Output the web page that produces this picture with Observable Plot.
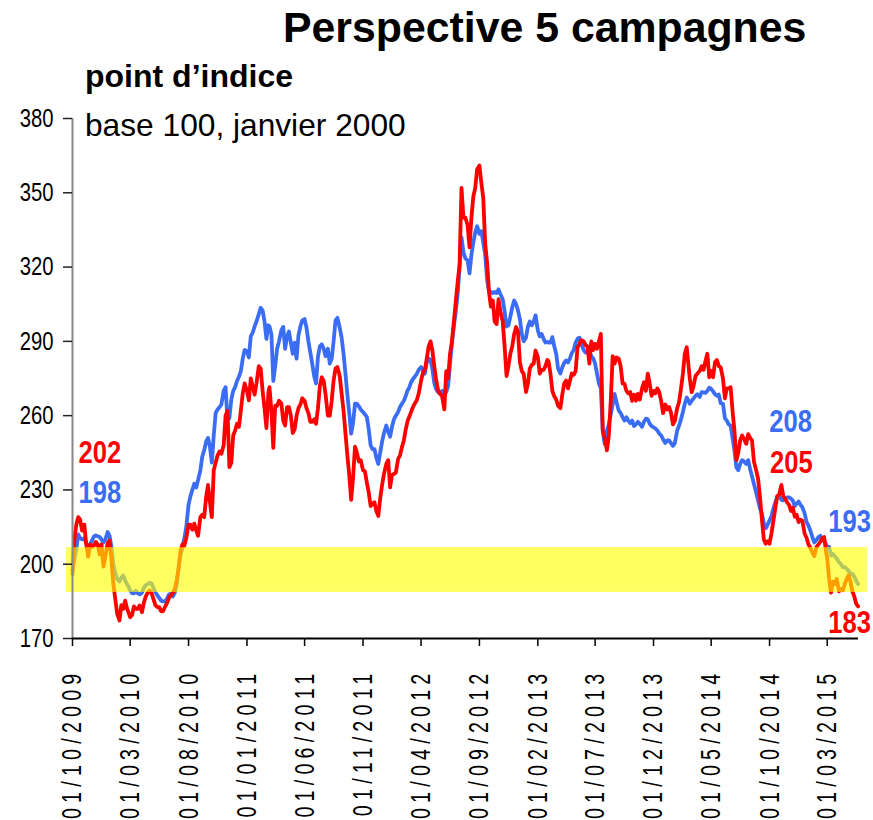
<!DOCTYPE html>
<html>
<head>
<meta charset="utf-8">
<script src="https://cdn.jsdelivr.net/npm/d3@7"></script>
<script src="https://cdn.jsdelivr.net/npm/@observablehq/plot@0.6"></script>
<style>
  html, body { margin: 0; padding: 0; background: #fff; }
  #wrap { position: relative; width: 873px; height: 820px; overflow: hidden; font-family: "Liberation Sans", Arial, sans-serif; color: #000; }
  #wrap svg { position: absolute; left: 0; top: 0; overflow: visible; }
  .txt { position: absolute; white-space: nowrap; line-height: 1; z-index: 2; }
  #title { left: 283px; top: 6px; font-size: 42.8px; font-weight: bold; }
  #sub { left: 85px; top: 60px; font-size: 32px; font-weight: bold; }
  #base { left: 85px; top: 110px; font-size: 31.7px; }
</style>
</head>
<body>
<div id="wrap">
  <div class="txt" id="title">Perspective 5 campagnes</div>
  <div class="txt" id="sub">point d’indice</div>
  <div class="txt" id="base">base 100, janvier 2000</div>
</div>
<script>
// months of the series (readings on the 1st, 6th, 11th, 16th, 21st and 26th)
const months = [
  "2009-10","2009-11","2009-12",
  "2010-01","2010-02","2010-03","2010-04","2010-05","2010-06","2010-07","2010-08","2010-09","2010-10","2010-11","2010-12",
  "2011-01","2011-02","2011-03","2011-04","2011-05","2011-06","2011-07","2011-08","2011-09","2011-10","2011-11","2011-12",
  "2012-01","2012-02","2012-03","2012-04","2012-05","2012-06","2012-07","2012-08","2012-09","2012-10","2012-11","2012-12",
  "2013-01","2013-02","2013-03","2013-04","2013-05","2013-06","2013-07","2013-08","2013-09","2013-10","2013-11","2013-12",
  "2014-01","2014-02","2014-03","2014-04","2014-05","2014-06","2014-07","2014-08","2014-09","2014-10","2014-11","2014-12",
  "2015-01","2015-02","2015-03","2015-04","2015-05"
];
const days = ["01", "06", "11", "16", "21", "26"];

// red series (index, base 100 = janvier 2000), six readings per month
const red = [
  // 2009
  196, 210, 216, 219, 218, 213.6,   216, 208, 203, 208, 207, 207.5,   209, 208, 204, 208, 199, 203,
  // 2010
  208.5, 209.6, 202, 192, 186, 180,   177.3, 183.5, 182, 185.3, 182, 180,   178.6, 179.5, 183, 182, 182, 183.3,
  180.6, 184.5, 187, 188.5, 189.4, 188.3,   186, 183.5, 182.7, 182.7, 181, 181,   183, 184.5, 186.5, 187.5, 188.5, 190,
  193.4, 198.5, 205.5, 208, 207.5, 210.5,   216, 216, 214, 216.4, 213.6, 211.5,   219, 220, 219, 227, 232, 225,
  219, 238, 241, 244, 245.5, 244.6,   248, 260, 262, 239.2, 241, 252,   254, 256.7, 255.5, 262, 269, 273,
  // 2011
  270, 266.2, 275, 272, 268.5, 273,   280, 279, 270, 263, 255, 269,   271.5, 262, 247, 264, 264, 266,
  265, 258, 256, 263.4, 263.4, 260,   253, 254.5, 260, 263, 264.5, 267,   266, 263, 261, 257.5, 257.5, 258.5,
  256.7, 263, 272, 275.5, 274, 268.5,   260, 260, 266, 274.2, 279, 279.6,   276, 269, 262, 253, 244, 236,
  226, 235, 247.5, 245, 241.5, 242,   238, 237.5, 233, 229, 223.5, 224.5,   225, 221.5, 219.5, 226.5, 232, 236.5,
  // 2012
  240.5, 242, 231, 236, 236.5, 237,   242.5, 244, 247.3, 250, 254.5, 258,   259.4, 261.5, 263.5, 265, 266.2, 269,
  274, 277.5, 278.5, 283, 288, 290,   286, 279.6, 274, 270, 268.8, 268,   262.5, 278, 275, 285, 290, 298,
  306, 314, 321, 352, 340, 340,   337, 328, 340, 348.5, 352, 359.5,   361, 354, 348, 329.5, 322, 310,
  304, 306.5, 298, 297, 307, 302,   298, 288, 276, 280, 285, 288,   293, 295.8, 294, 281.5, 278, 276.9,
  // 2013
  269.5, 272.9, 279, 280.5, 281, 286.3,   283.6, 277, 278.5, 278.5, 280, 282.5,   282, 277, 270, 267.8, 266.5, 264,
  263, 268.5, 273, 274.2, 271, 274,   277, 276.5, 278, 287.6, 289, 290.5,   290, 288.5, 288, 281, 290, 286.5,
  289, 287, 290, 293, 254, 251,   246, 252, 266, 284, 281, 283.5,   283, 280, 273, 272.9, 270, 269,
  269.5, 266, 268.5, 266, 268.8, 266.5,   271, 273.5, 270, 277, 273, 268,   270, 269, 271, 269.5, 266, 261,
  // 2014
  264.5, 262.5, 263.5, 261, 256.5, 258,   263, 265.5, 271, 276.9, 285, 287.6,   283, 275, 269.5, 272, 276, 277,
  278, 280, 278.5, 282, 285, 275.5,   278, 275.5, 281.5, 282.5, 280, 279.5,   275, 267, 271, 271, 271.5, 262,
  254, 242, 245, 250, 252, 250.5,   248.6, 252.5, 251, 250, 241.5, 238.5,   234.5, 227, 218, 210, 208.3, 209.3,
  208.3, 212.5, 217.5, 222.5, 227.5, 228,   232, 227.5, 226.5, 225, 224, 221.5,   222.8, 219.2, 220, 217, 218, 217.5,
  // 2015
  212.3, 210.7, 208, 206.5, 204.8, 203.2,   207, 208, 209, 210.5, 211, 205,   202.5, 194, 188.5, 193, 192, 194,
  189, 190, 189.5, 192, 194, 195.5,   193, 189, 187, 184, 183
];

// blue series, six readings per month
const blue = [
  // 2009
  197.5, 202, 206, 212, 210.5, 210,   210.5, 208.4, 207.3, 208, 209.5, 211.2,   211.6, 211.3, 211, 210, 208.8, 210,
  // 2010
  213, 211.5, 207, 200, 196.5, 194,   193, 194.6, 195.4, 193.5, 192, 190.5,   189.5, 188.3, 188.2, 189.3, 188.2, 187.8,
  188.5, 190.5, 191.5, 192, 192.5, 192.3,   190.5, 188.7, 187.5, 186.4, 185.3, 185,   185, 186.3, 187.8, 188, 187, 188.5,
  192, 198.5, 204, 206.7, 210.5, 215,   224, 227.5, 230, 232.5, 231, 234,   238, 243.5, 246, 249.5, 251, 247.5,
  241, 252, 261, 262.5, 263.4, 264.5,   270, 271.5, 258, 259, 266.5, 270,   271.5, 274, 275.7, 278, 283, 286.5,
  // 2011
  286, 283.5, 292, 293.5, 296, 298,   301, 303.5, 302.5, 298, 291, 296.5,   296, 293, 274, 280, 287, 290,
  294.4, 295.8, 287, 292, 294, 289.5,   285, 289.5, 283, 292.5, 296, 298.5,   299, 295.5, 290, 285.5, 281, 276,
  273, 283.8, 288, 288.8, 287, 284,   287, 281, 283, 290, 298.4, 299.5,   295.5, 291.5, 285, 277, 268.5, 261,
  252.7, 257, 264.8, 264.8, 263.8, 262.5,   261.5, 260.5, 259.5, 254.5, 248, 246.5,   246.5, 243, 240.5, 245, 249.5, 253,
  // 2012
  256, 253.5, 251.5, 255.5, 258.5, 260,   261.5, 263.5, 264.8, 266, 268, 270.3,   271.3, 273.5, 274.8, 275.8, 276.9, 278.5,
  279.6, 278.5, 276.9, 281.5, 283, 282.5,   278.5, 272.9, 270.5, 269.5, 268.8, 270,   268.8, 269.5, 272, 281, 289, 296,
  302, 309, 320, 332, 326, 323.5,   322.7, 317.5, 325, 330, 334, 336.5,   333.4, 334.5, 330, 325, 315, 310,
  310, 309.5, 310, 309.5, 311, 309,   307, 302, 296, 296.5, 300, 303.8,   306.5, 305, 302.5, 299, 293, 290,
  // 2013
  291.5, 296, 298, 296.5, 298, 300.5,   294.4, 292, 293, 291, 289.5, 289.8,   289.5, 289.5, 291.7, 288, 285, 279,
  277, 279.5, 281.3, 282.3, 281.5, 283,   285.3, 286.5, 289.5, 291, 291.5, 289,   286.5, 285.5, 285.5, 286, 284, 283.2,
  281, 277, 273, 271, 254, 248.6,   254, 256.5, 260.5, 264.5, 268.8, 265.5,   262, 261, 259.4, 258, 259.4, 258,
  257, 258, 255.8, 256.5, 257.5, 256.7,   255.5, 257.5, 258.8, 258.5, 256.7, 255.8,   255.3, 254.8, 254, 252.8, 252, 250.5,
  // 2014
  249, 250, 250, 248.8, 247.8, 249,   254, 256, 258.5, 261.5, 264.8, 267.3,   266.5, 264.8, 266, 267, 268, 268.6,
  267.5, 269.5, 269.4, 269.2, 270, 271.3,   270.8, 269.8, 268.6, 268, 268.5, 265,   264.8, 259, 258, 256.5, 256, 251,
  246, 239.2, 238, 240.5, 242, 241.5,   240.5, 242, 238.5, 235.5, 232.5, 229.5,   225.7, 222.5, 220.4, 216.5, 214.5, 216,
  217.7, 219.3, 222.5, 225, 227, 227.5,   226, 225.8, 226.5, 227, 227, 226.5,   225.7, 223.5, 224.5, 225.3, 224, 223,
  // 2015
  220.4, 217, 215.6, 213.5, 211, 208.8,   209.8, 211, 211.5, 209.6, 209.6, 208,   207, 207, 203.5, 204.2, 203.2, 202.3,
  200.8, 200, 198.8, 198.8, 198.2, 197.3,   196.1, 196.1, 195, 193.2, 192
];

// x-axis tick dates and y-axis ticks
const xTicks = ["2009-10-01","2010-03-01","2010-08-01","2011-01-01","2011-06-01","2011-11-01","2012-04-01",
                "2012-09-01","2013-02-01","2013-07-01","2013-12-01","2014-05-01","2014-10-01","2015-03-01"];
const yTicks = [170, 200, 230, 260, 290, 320, 350, 380];

// shaded zone (index range) and its date extent
const zone = {from: "2009-09-15", to: "2015-06-15", low: 188.6, high: 206.7};

// value annotations
const annotations = [
  {text: "202", series: "red",  date: "2009-10-17", value: 245.1},
  {text: "198", series: "blue", date: "2009-10-17", value: 229.0},
  {text: "208", series: "blue", date: "2014-09-30", value: 257.7},
  {text: "205", series: "red",  date: "2014-10-02", value: 240.9},
  {text: "193", series: "blue", date: "2015-03-04", value: 217.0},
  {text: "183", series: "red",  date: "2015-03-04", value: 176.5}
];

const xDomain = ["2009-10-01", "2015-05-22"];

const parse = d3.utcParse("%Y-%m-%d");
const dates = months.flatMap(m => days.map(d => parse(m + "-" + d)));
const redData = red.map((value, i) => ({date: dates[i], value}));
const blueData = blue.map((value, i) => ({date: dates[i], value}));
const colors = {red: "#ff0000", blue: "#3a6cf4"};
const x0 = parse(xDomain[0]), x1 = parse(xDomain[1]);

const chart = Plot.plot({
  width: 873,
  height: 820,
  marginLeft: 72,
  marginRight: 15,
  marginTop: 118,
  marginBottom: 182,
  style: {background: "transparent", overflow: "visible", fontFamily: "'Liberation Sans', Arial, sans-serif"},
  x: {type: "utc", domain: [x0, x1], label: null},
  y: {domain: [170, 380], label: null},
  color: {type: "identity"},
  marks: [
    Plot.line(blueData, {x: "date", y: "value", stroke: colors.blue, strokeWidth: 3.8, strokeLinejoin: "round"}),
    Plot.line(redData, {x: "date", y: "value", stroke: colors.red, strokeWidth: 3.8, strokeLinejoin: "round"}),
    Plot.rect([zone], {x1: d => parse(d.from), x2: d => parse(d.to), y1: "low", y2: "high", fill: "#ffff00", fillOpacity: 0.62}),
    Plot.ruleX([x0], {y1: 170, y2: 380, stroke: "#888", strokeWidth: 2}),
    Plot.ruleY([170], {x1: x0, x2: x1, stroke: "#000", strokeWidth: 2}),
    Plot.axisY({ticks: yTicks, tickSize: 9, tickPadding: 10, fontSize: 26, label: null, stroke: "#222", strokeWidth: 1.5}),
    Plot.axisX({ticks: xTicks.map(parse), tickFormat: d3.utcFormat("%d/%m/%Y"), tickRotate: -90, tickSize: 8,
                tickPadding: 22, fontSize: 28, label: null, stroke: "#000", strokeWidth: 1.5}),
    Plot.text(annotations, {x: d => parse(d.date), y: "value", text: "text", fill: d => colors[d.series],
                            textAnchor: "start", lineAnchor: "middle", fontSize: 32, fontWeight: "bold"})
  ]
});
document.getElementById("wrap").appendChild(chart);

// condensed look of the original's narrow typeface: squeeze glyphs along the text direction
function squeeze(selector, k, spacing) {
  chart.querySelectorAll(selector).forEach(g => {
    if (spacing != null) g.setAttribute("letter-spacing", spacing);
    g.querySelectorAll("text").forEach(t => {
      const tr = t.getAttribute("transform") || "";
      t.setAttribute("transform", tr + ` scale(${k},1)`);
    });
  });
}
squeeze('g[aria-label="y-axis tick label"]', 0.78);
squeeze('g[aria-label="x-axis tick label"]', 0.7, 7.5);
squeeze('g[aria-label="text"]', 0.8);
</script>
</body>
</html>
